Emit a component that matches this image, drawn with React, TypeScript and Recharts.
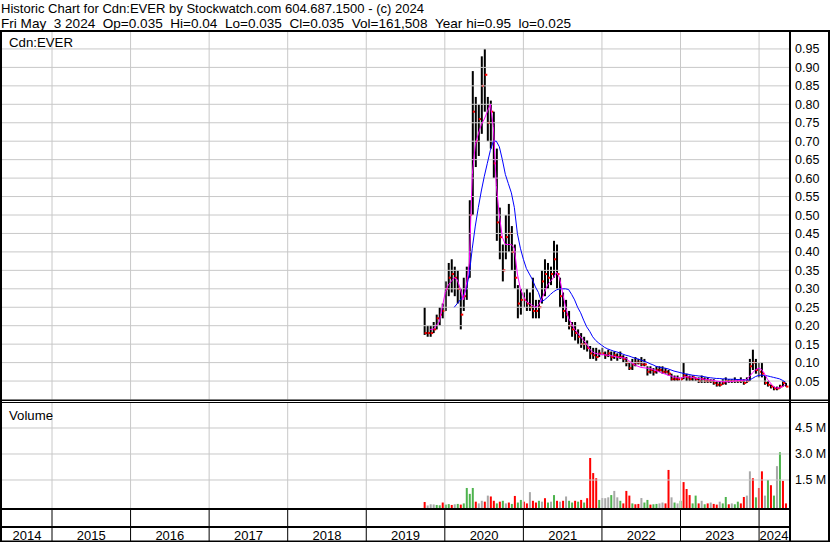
import React from 'react';
import { ComposedChart, Bar, Line, XAxis, YAxis, ReferenceLine } from 'recharts';

const START_DATE = '2019-09-27';
const STEP_DAYS = 14;
const YEARS = [2014, 2015, 2016, 2017, 2018, 2019, 2020, 2021, 2022, 2023, 2024];
const PRICE_TICKS = [0.05, 0.1, 0.15, 0.2, 0.25, 0.3, 0.35, 0.4, 0.45, 0.5, 0.55, 0.6, 0.65, 0.7, 0.75, 0.8, 0.85, 0.9, 0.95];
const VOLUME_TICKS = [1500000, 3000000, 4500000];
const VOLUME_LABELS = ['1.5 M', '3.0 M', '4.5 M'];

const highs = [
  0.25, 0.2, 0.2, 0.21, 0.23, 0.25, 0.26, 0.32, 0.37, 0.38,
  0.36, 0.35, 0.3, 0.33, 0.36, 0.54, 0.89, 0.82, 0.8, 0.93,
  0.95, 0.82, 0.81, 0.78, 0.68, 0.52, 0.42, 0.5, 0.53, 0.47,
  0.42, 0.31, 0.3, 0.29, 0.3, 0.29, 0.33, 0.27, 0.27, 0.35,
  0.38, 0.37, 0.36, 0.43, 0.42, 0.33, 0.29, 0.27, 0.24, 0.21,
  0.21, 0.19, 0.18, 0.17, 0.16, 0.145, 0.14, 0.14, 0.135, 0.14,
  0.13, 0.135, 0.13, 0.13, 0.125, 0.13, 0.12, 0.115, 0.1, 0.11,
  0.115, 0.11, 0.115, 0.11, 0.09, 0.09, 0.085, 0.09, 0.09, 0.09,
  0.085, 0.08, 0.07, 0.065, 0.065, 0.06, 0.1, 0.07, 0.065, 0.065,
  0.06, 0.06, 0.065, 0.06, 0.06, 0.055, 0.055, 0.05, 0.05, 0.055,
  0.06, 0.055, 0.055, 0.06, 0.055, 0.06, 0.055, 0.06, 0.11, 0.135,
  0.11, 0.1, 0.1, 0.065, 0.05, 0.04, 0.035, 0.035, 0.04, 0.05, 0.045,
];
const lows = [
  0.175, 0.17, 0.17, 0.18, 0.19, 0.2, 0.22, 0.24, 0.28, 0.29,
  0.28, 0.26, 0.19, 0.24, 0.27, 0.33, 0.5, 0.63, 0.66, 0.72,
  0.78, 0.7, 0.68, 0.6, 0.43, 0.38, 0.32, 0.38, 0.4, 0.35,
  0.3, 0.22, 0.23, 0.25, 0.24, 0.24, 0.22, 0.22, 0.22, 0.26,
  0.28, 0.3, 0.31, 0.33, 0.3, 0.25, 0.22, 0.21, 0.19, 0.17,
  0.16, 0.15, 0.14, 0.135, 0.13, 0.11, 0.11, 0.105, 0.115, 0.12,
  0.11, 0.115, 0.105, 0.11, 0.105, 0.11, 0.1, 0.09, 0.08, 0.08,
  0.09, 0.095, 0.09, 0.09, 0.065, 0.07, 0.065, 0.07, 0.075, 0.07,
  0.07, 0.065, 0.05, 0.05, 0.05, 0.05, 0.055, 0.05, 0.05, 0.05,
  0.05, 0.045, 0.045, 0.045, 0.045, 0.045, 0.04, 0.035, 0.035, 0.04,
  0.04, 0.045, 0.045, 0.045, 0.045, 0.045, 0.04, 0.045, 0.05, 0.08,
  0.07, 0.06, 0.06, 0.04, 0.035, 0.03, 0.025, 0.025, 0.03, 0.035, 0.035,
];
const closes = [
  0.18, 0.18, 0.18, 0.19, 0.22, 0.23, 0.24, 0.3, 0.33, 0.34,
  0.33, 0.3, 0.23, 0.28, 0.33, 0.5, 0.78, 0.7, 0.76, 0.85,
  0.88, 0.75, 0.78, 0.64, 0.48, 0.44, 0.35, 0.44, 0.45, 0.4,
  0.33, 0.26, 0.27, 0.27, 0.26, 0.25, 0.24, 0.24, 0.25, 0.32,
  0.34, 0.33, 0.34, 0.38, 0.34, 0.28, 0.24, 0.23, 0.2, 0.19,
  0.18, 0.17, 0.15, 0.15, 0.14, 0.125, 0.12, 0.115, 0.125, 0.125,
  0.12, 0.125, 0.115, 0.12, 0.115, 0.115, 0.11, 0.1, 0.085, 0.095,
  0.1, 0.1, 0.095, 0.095, 0.075, 0.08, 0.075, 0.08, 0.08, 0.075,
  0.075, 0.07, 0.055, 0.055, 0.055, 0.055, 0.065, 0.06, 0.055, 0.06,
  0.055, 0.05, 0.055, 0.05, 0.05, 0.05, 0.045, 0.04, 0.04, 0.045,
  0.05, 0.05, 0.05, 0.05, 0.05, 0.05, 0.045, 0.05, 0.09, 0.1,
  0.08, 0.075, 0.07, 0.045, 0.04, 0.035, 0.03, 0.03, 0.035, 0.045, 0.035,
];
const maFast = [
  null, null, 0.19, 0.19, 0.2, 0.21, 0.25, 0.29, 0.31, 0.32,
  0.33, 0.325, 0.3, 0.27, 0.31, 0.37, 0.61, 0.69, 0.72, 0.745,
  0.76, 0.78, 0.8, 0.74, 0.58, 0.5, 0.44, 0.42, 0.42, 0.42,
  0.41, 0.34, 0.3, 0.28, 0.265, 0.26, 0.255, 0.25, 0.255, 0.27,
  0.29, 0.31, 0.32, 0.33, 0.345, 0.33, 0.29, 0.25, 0.22, 0.205,
  0.19, 0.18, 0.17, 0.16, 0.15, 0.137, 0.128, 0.125, 0.123, 0.122,
  0.121, 0.12, 0.119, 0.117, 0.115, 0.114, 0.113, 0.112, 0.105, 0.099,
  0.094, 0.09, 0.087, 0.086, 0.085, 0.084, 0.081, 0.078, 0.075, 0.072,
  0.069, 0.066, 0.064, 0.061, 0.059, 0.058, 0.06, 0.062, 0.061, 0.06,
  0.058, 0.057, 0.056, 0.055, 0.054, 0.053, 0.052, 0.05, 0.049, 0.048,
  0.048, 0.048, 0.049, 0.05, 0.051, 0.052, 0.052, 0.053, 0.062, 0.072,
  0.08, 0.085, 0.082, 0.07, 0.055, 0.045, 0.035, 0.031, 0.032, 0.035, 0.04,
];
const maSlow = [
  null, null, null, null, null, null, null, null, null, null,
  0.25, 0.26, 0.27, 0.28, 0.3, 0.34, 0.41, 0.47, 0.52, 0.565,
  0.605, 0.64, 0.675, 0.7, 0.7, 0.685, 0.65, 0.61, 0.585, 0.56,
  0.52, 0.45, 0.41, 0.38, 0.355, 0.34, 0.325, 0.305, 0.29, 0.265,
  0.27, 0.277, 0.285, 0.292, 0.297, 0.3, 0.3, 0.3, 0.298, 0.285,
  0.27, 0.25, 0.235, 0.215, 0.197, 0.185, 0.17, 0.16, 0.153, 0.147,
  0.141, 0.137, 0.134, 0.131, 0.129, 0.126, 0.123, 0.12, 0.118, 0.115,
  0.112, 0.11, 0.107, 0.104, 0.101, 0.097, 0.094, 0.09, 0.088, 0.086,
  0.085, 0.083, 0.08, 0.077, 0.075, 0.073, 0.071, 0.069, 0.068, 0.066,
  0.065, 0.064, 0.063, 0.062, 0.06, 0.059, 0.058, 0.057, 0.057, 0.056,
  0.056, 0.055, 0.055, 0.055, 0.054, 0.054, 0.053, 0.053, 0.053, 0.057,
  0.062, 0.065, 0.066, 0.065, 0.064, 0.062, 0.06, 0.058, 0.056, 0.052, 0.047,
];
// volume in thousands of shares
const volumes = [
  230, 30, 100, 90, 60, 40, 200, 80, 110, 60,
  100, 120, 80, 150, 1040, 700, 1040, 250, 150, 300,
  250, 600, 550, 300, 150, 250, 300, 150, 200, 120,
  580, 200, 350, 250, 150, 800, 300, 200, 300, 250,
  450, 200, 250, 630, 300, 250, 300, 550, 300, 200,
  300, 250, 350, 200, 450, 2770, 1900, 1600, 350, 460,
  450, 500, 630, 870, 500, 300, 150, 870, 600, 150,
  100, 120, 460, 200, 350, 80, 100, 120, 150, 200,
  150, 2080, 500, 200, 150, 300, 1380, 980, 630, 150,
  600, 150, 300, 100, 150, 200, 120, 80, 250, 150,
  520, 100, 150, 100, 250, 150, 520, 600, 2000, 1600,
  500, 1040, 2000, 600, 1500, 1200, 600, 2300, 3100, 1450, 150,
];
// r = down, g = up, n = unchanged
const volumeDirs = [
  'r', 'n', 'n', 'n', 'g', 'g', 'r', 'g', 'g', 'r',
  'n', 'g', 'r', 'g', 'g', 'g', 'g', 'r', 'n', 'n',
  'r', 'n', 'r', 'r', 'g', 'r', 'g', 'n', 'r', 'g',
  'r', 'g', 'g', 'r', 'r', 'n', 'r', 'r', 'g', 'n',
  'r', 'g', 'n', 'g', 'r', 'n', 'r', 'n', 'g', 'g',
  'r', 'g', 'r', 'g', 'r', 'r', 'r', 'r', 'g', 'n',
  'n', 'n', 'g', 'n', 'n', 'g', 'r', 'r', 'r', 'g',
  'r', 'r', 'n', 'g', 'g', 'r', 'g', 'g', 'n', 'n',
  'r', 'r', 'n', 'g', 'n', 'g', 'r', 'r', 'r', 'g',
  'g', 'r', 'n', 'g', 'r', 'n', 'r', 'r', 'n', 'g',
  'g', 'r', 'n', 'g', 'g', 'r', 'r', 'n', 'n', 'r',
  'g', 'r', 'r', 'n', 'g', 'r', 'g', 'n', 'g', 'r', 'r',
];

const TITLE_1 = 'Historic Chart for Cdn:EVER by Stockwatch.com 604.687.1500 - (c) 2024';
const TITLE_2 = 'Fri May  3 2024  Op=0.035  Hi=0.04  Lo=0.035  Cl=0.035  Vol=161,508  Year hi=0.95  lo=0.025';
const SYMBOL = 'Cdn:EVER';

const W = 830;
const H = 543;
const T0 = 2014.3635;
const T1 = 2024.381;
const VMIN = -173000;
const VMAX = 5942000;
const FONT = "'Liberation Sans', Arial, sans-serif";
const GRID = '#c8c8c8';
const DIR_COLORS: Record<string, string> = { r: '#ff0000', g: '#4db34d', n: '#a8a8a8' };

// keep runs of spaces visible in SVG text
const keepSpaces = (s: string) => s.replace(/ /g, '\u00a0');

function toDecimalYear(ms: number) {
  const d = new Date(ms);
  const y = d.getUTCFullYear();
  const a = Date.UTC(y, 0, 1);
  const b = Date.UTC(y + 1, 0, 1);
  return y + (ms - a) / (b - a);
}

const startMs = Date.parse(START_DATE + 'T00:00:00Z');
const rows = highs.map((hi, i) => ({
  t: toDecimalYear(startMs + i * STEP_DAYS * 86400000),
  hi,
  lo: lows[i],
  cl: closes[i],
  ma1: maFast[i],
  ma2: maSlow[i],
  vol: volumes[i] * 1000,
  dir: volumeDirs[i],
}));

const yearBoundaries = YEARS.slice(1);
const labelCenters = YEARS.map((y) => {
  const a = Math.max(y, T0);
  const b = Math.min(y + 1, T1);
  return (a + b) / 2;
});
const axisTicks = [...yearBoundaries, ...labelCenters].sort((a, b) => a - b);

const Candle = (props: any) => {
  const { x, y, width, height, payload } = props;
  if (x == null || y == null) return null;
  const h = Math.max(height, 1);
  const span = payload.hi - payload.lo;
  const cy = span > 0 ? y + ((payload.hi - payload.cl) / span) * height : y;
  return (
    <g>
      <rect x={x} y={y} width={width} height={h} fill="#000" />
      <rect x={x + 1} y={cy - 1} width={2.5} height={2} fill="#ff0000" />
    </g>
  );
};

const VolBar = (props: any) => {
  const { x, y, width, height, payload } = props;
  if (x == null || y == null) return null;
  return <rect x={x} y={y} width={width} height={Math.max(height, 0)} fill={DIR_COLORS[payload.dir]} />;
};

const PriceTick = (props: any) => {
  const { x, y, payload } = props;
  return (
    <text x={x + 6} y={y} dy={4.5} fontSize={12.5} fontFamily={FONT} fill="#000" textAnchor="start">
      {payload.value.toFixed(2)}
    </text>
  );
};

const VolumeTick = (props: any) => {
  const { x, y, payload } = props;
  const idx = VOLUME_TICKS.indexOf(payload.value);
  return (
    <text x={x + 6} y={y} dy={4.5} fontSize={12.5} fontFamily={FONT} fill="#000" textAnchor="start">
      {VOLUME_LABELS[idx]}
    </text>
  );
};

const YearTick = (props: any) => {
  const { x, y, payload } = props;
  const v = payload.value;
  if (Number.isInteger(v)) {
    return <line x1={x} x2={x} y1={y} y2={y + 32} stroke="#000" strokeWidth={1} />;
  }
  return (
    <text x={x} y={y + 30.5} fontSize={13} fontFamily={FONT} fill="#000" textAnchor="middle">
      {String(Math.floor(v))}
    </text>
  );
};

export default function App() {
  return (
    <div style={{ position: 'absolute', left: 0, top: 0, width: W, height: H, background: '#fff', overflow: 'hidden' }}>
      <div style={{ position: 'absolute', left: 0, top: 0 }}>
        <ComposedChart width={W} height={H} data={rows} margin={{ top: 30.5, right: 0, bottom: 143.5, left: 2 }}>
          <XAxis type="number" dataKey="t" domain={[T0, T1]} hide height={0} allowDataOverflow />
          <YAxis
            orientation="right"
            type="number"
            domain={[0, 1]}
            ticks={PRICE_TICKS}
            width={41}
            axisLine={false}
            tickLine={false}
            tickSize={0}
            tickMargin={0}
            interval={0}
            tick={<PriceTick />}
            allowDataOverflow
          />
          {yearBoundaries.map((y) => (
            <ReferenceLine key={'px' + y} x={y} stroke={GRID} strokeWidth={1} />
          ))}
          {PRICE_TICKS.map((v) => (
            <ReferenceLine key={'py' + v} y={v} stroke={GRID} strokeWidth={1} />
          ))}
          <Bar dataKey={(d: any) => [d.lo, d.hi]} barSize={2} shape={<Candle />} isAnimationActive={false} />
          <Line type="linear" dataKey="ma2" stroke="#0000ff" strokeWidth={1} dot={false} isAnimationActive={false} connectNulls={false} />
          <Line type="linear" dataKey="ma1" stroke="#ff00ff" strokeWidth={1} dot={false} isAnimationActive={false} connectNulls={false} />
        </ComposedChart>
      </div>
      <div style={{ position: 'absolute', left: 0, top: 0 }}>
        <ComposedChart width={W} height={H} data={rows} margin={{ top: 403, right: 0, bottom: 2, left: 2 }}>
          <XAxis
            type="number"
            dataKey="t"
            domain={[T0, T1]}
            ticks={axisTicks}
            interval={0}
            height={32}
            axisLine={{ stroke: '#000', strokeWidth: 2 }}
            tickLine={false}
            tickSize={0}
            tickMargin={0}
            tick={<YearTick />}
            allowDataOverflow
          />
          <YAxis
            orientation="right"
            type="number"
            domain={[VMIN, VMAX]}
            ticks={VOLUME_TICKS}
            width={41}
            axisLine={false}
            tickLine={false}
            tickSize={0}
            tickMargin={0}
            interval={0}
            tick={<VolumeTick />}
            allowDataOverflow
          />
          {yearBoundaries.map((y) => (
            <ReferenceLine key={'vx' + y} x={y} stroke={GRID} strokeWidth={1} />
          ))}
          {VOLUME_TICKS.map((v) => (
            <ReferenceLine key={'vy' + v} y={v} stroke={GRID} strokeWidth={1} />
          ))}
          <Bar dataKey={(d: any) => [VMIN, d.vol]} barSize={2} shape={<VolBar />} isAnimationActive={false} />
        </ComposedChart>
      </div>
      <svg width={W} height={H} style={{ position: 'absolute', left: 0, top: 0, pointerEvents: 'none' }}>
        <text x={1} y={13} fontSize={13} fontFamily={FONT} textLength={423} lengthAdjust="spacingAndGlyphs">
          {keepSpaces(TITLE_1)}
        </text>
        <text x={1} y={27.8} fontSize={13} fontFamily={FONT} textLength={570} lengthAdjust="spacingAndGlyphs">
          {keepSpaces(TITLE_2)}
        </text>
        <rect x={0} y={30} width={W} height={2} fill="#000" />
        <text x={9} y={46.5} fontSize={13} fontFamily={FONT} textLength={64} lengthAdjust="spacingAndGlyphs">
          {SYMBOL}
        </text>
        <text x={9} y={420} fontSize={13} fontFamily={FONT} textLength={44} lengthAdjust="spacingAndGlyphs">
          Volume
        </text>
        <rect x={0} y={31} width={2} height={511} fill="#000" />
        <rect x={789} y={31} width={2} height={511} fill="#000" />
        <rect x={828} y={31} width={2} height={511} fill="#000" />
        <rect x={0} y={399.5} width={W} height={1.5} fill="#000" />
        <rect x={0} y={402} width={W} height={1} fill="#000" />
        <rect x={0} y={526} width={790} height={2} fill="#000" />
        <rect x={0} y={540.5} width={W} height={1.5} fill="#000" />
      </svg>
    </div>
  );
}
